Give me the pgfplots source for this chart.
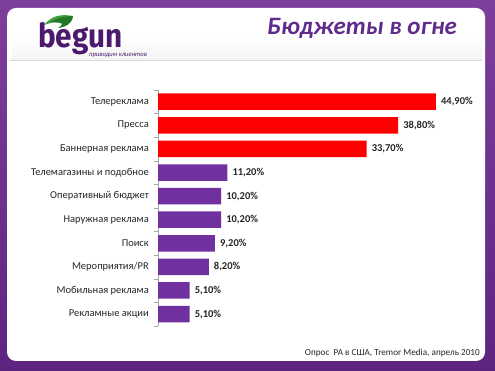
\documentclass[border=0pt]{standalone}
\usepackage{pgfplots}
\pgfplotsset{compat=1.18}
\usepackage{fontspec}
\setmainfont{Carlito}
\newfontfamily\logofont{Fira Sans}
\definecolor{frameTop}{HTML}{7E3F9C}
\definecolor{frameBot}{HTML}{5E2380}
\definecolor{barRed}{HTML}{FF0000}
\definecolor{barPurple}{HTML}{7030A0}
\definecolor{titlePurple}{HTML}{5F2C8C}
\definecolor{logoPurple}{HTML}{4B1A6E}
\definecolor{leafGreen}{HTML}{3FA13F}
\definecolor{leafDark}{HTML}{23782A}
\definecolor{labelGray}{HTML}{262626}
\begin{document}
\begin{tikzpicture}[x=1pt,y=1pt]
\useasboundingbox (0,0) rectangle (495,371);
\shade[top color=frameTop,bottom color=frameBot] (0,0) rectangle (495,371);
\fill[white, rounded corners=9pt] (7,10) rectangle (485,363);
\shade[top color=white,bottom color=gray!9] (12,336) rectangle (482,311);
\draw[gray!30, line width=0.8pt] (10,310.5) -- (482,310.5);
% logo
\fill[leafGreen] (44,346) .. controls (52,356) and (62,357) .. (73,355) .. controls (66,351) and (56,350) .. (44,346) -- cycle;
\fill[leafDark] (50,348.5) .. controls (58,354) and (65,354.5) .. (73,355) .. controls (72,347) and (66,344) .. (58,343) .. controls (63,346) and (66,349) .. (50,348.5) -- cycle;
\node[anchor=base west, inner sep=0pt, text=logoPurple] at (38,323.5) {\scalebox{0.9}[1]{\logofont\bfseries\fontsize{33}{36}\selectfont begun}};
\node[anchor=west, inner sep=0pt, text=logoPurple, font=\itshape\fontsize{6.6}{7}\selectfont] at (89,316) {приводим клиентов};
% title
\node[anchor=base west, inner sep=0pt, text=titlePurple, font=\fontsize{25}{30}\selectfont\bfseries\itshape] at (267,336) {Бюджеты в огне};
% footer
\node[anchor=base east, inner sep=0pt, text=labelGray, font=\fontsize{9.2}{11}\selectfont] at (480,15) {Опрос\ \ РА в США, Tremor Media, апрель 2010};
\begin{axis}[
  at={(158pt,45.1pt)}, anchor=south west,
  scale only axis, width=309.5pt, height=236pt,
  xmin=0, xmax=50, ymin=-0.5, ymax=9.5, y dir=reverse,
  axis x line=none, axis y line=left,
  y axis line style={-, draw=gray!70},
  ytick={0,...,9},
  yticklabels={Телереклама,Пресса,Баннерная реклама,Телемагазины и подобное,Оперативный бюджет,Наружная реклама,Поиск,Мероприятия/PR,Мобильная реклама,Рекламные акции},
  major tick length=0pt,
  minor ytick={-0.5,0.5,...,9.5},
  minor tick length=4pt, tick align=outside,
  minor y tick style={draw=gray!70},
  yticklabel style={anchor=east, inner sep=0pt, xshift=-9pt, text=labelGray, font=\fontsize{10.5}{12}\selectfont},
  xbar, bar width=16.5pt, bar shift=0pt,
  point meta=x,
  /pgf/number format/assume math mode=true,
  nodes near coords={\pgfmathprintnumber[fixed,fixed zerofill,precision=2,use comma]{\pgfplotspointmeta}\%},
  every node near coord/.append style={font=\fontsize{10.5}{12}\selectfont\bfseries, text=labelGray, inner sep=0pt, xshift=5pt, anchor=west},
  clip=false,
]
\addplot[xbar, fill=barRed, draw=none] coordinates {(44.9,0) (38.8,1) (33.7,2)};
\addplot[xbar, fill=barPurple, draw=none] coordinates {(11.2,3) (10.2,4) (10.2,5) (9.2,6) (8.2,7) (5.1,8) (5.1,9)};
\end{axis}
\end{tikzpicture}
\end{document}
